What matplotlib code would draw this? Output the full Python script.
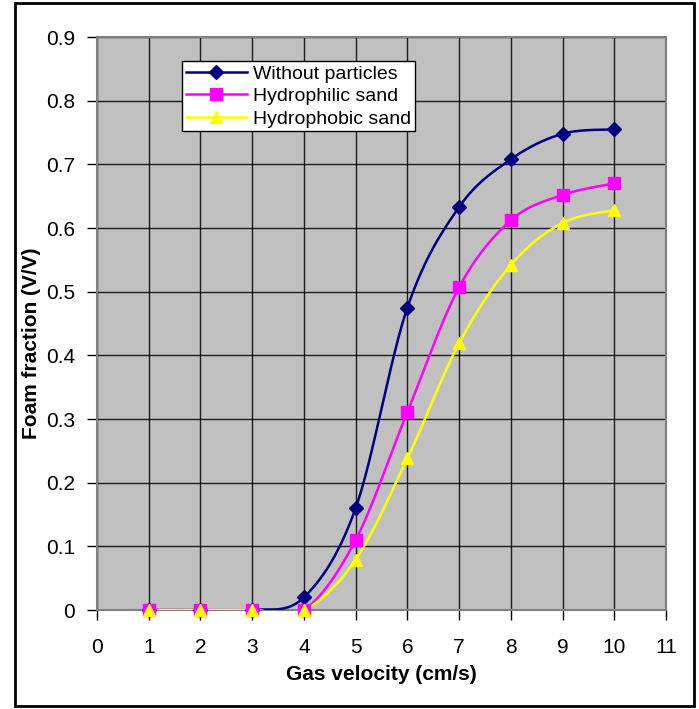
import numpy as np
import matplotlib.pyplot as plt
from matplotlib.patches import Rectangle
from matplotlib.lines import Line2D

plt.rcParams['font.family'] = ['Liberation Sans', 'DejaVu Sans']

# data
velocity = [1, 2, 3, 4, 5, 6, 7, 8, 9, 10]
without_particles = [0, 0, 0, 0.02, 0.160, 0.475, 0.633, 0.708, 0.748, 0.755]
hydrophilic_sand = [0, 0, 0, 0, 0.110, 0.311, 0.507, 0.612, 0.652, 0.670]
hydrophobic_sand = [0, 0, 0, 0, 0.079, 0.238, 0.419, 0.542, 0.608, 0.628]

x_ticks = list(range(0, 12))
y_ticks = [0, 0.1, 0.2, 0.3, 0.4, 0.5, 0.6, 0.7, 0.8, 0.9]


def smooth(x, y, n=30):
    """Excel-style smoothed line (Catmull-Rom through the points)."""
    x = np.asarray(x, float)
    y = np.asarray(y, float)
    px = np.concatenate([[x[0]], x, [x[-1]]])
    py = np.concatenate([[y[0]], y, [y[-1]]])
    xs, ys = [], []
    for i in range(1, len(px) - 2):
        p0, p1, p2, p3 = (np.array([px[j], py[j]]) for j in (i - 1, i, i + 1, i + 2))
        c1 = p1 + (p2 - p0) / 6.0
        c2 = p2 - (p3 - p1) / 6.0
        t = np.linspace(0, 1, n)[:, None]
        b = ((1 - t)**3) * p1 + 3 * ((1 - t)**2) * t * c1 + 3 * (1 - t) * t**2 * c2 + t**3 * p2
        xs.extend(b[:, 0])
        ys.extend(b[:, 1])
    return np.array(xs), np.array(ys)


fig = plt.figure(figsize=(6.99, 7.09), dpi=100)
ax = fig.add_axes([0.1388, 0.1396, 0.814, 0.8082])
ax.set_facecolor('#C0C0C0')

series = [
    ("Without particles", without_particles, '#000080', 'D', 7),
    ("Hydrophilic sand", hydrophilic_sand, '#FF00FF', 's', 9),
    ("Hydrophobic sand", hydrophobic_sand, '#FFFF00', '^', 9),
]

handles = []
for label, vals, color, marker, ms in series:
    sx, sy = smooth(velocity, vals)
    ax.plot(sx, sy, color=color, linewidth=1.8, zorder=3)
    ax.plot(velocity, vals, linestyle='none', marker=marker, markersize=ms,
            color=color, markeredgecolor=color, zorder=4, clip_on=False)
    handles.append(Line2D([], [], color=color, linewidth=1.8, marker=marker,
                          markersize=ms, markeredgecolor=color, label=label))

ax.set_xlim(0, 11)
ax.set_ylim(0, 0.9)
ax.set_xticks(x_ticks)
ax.set_yticks(y_ticks)
ax.set_yticklabels(['0'] + [f'{v:.1f}' for v in y_ticks[1:]])
ax.grid(True, color='black', linewidth=1.0, alpha=0.85)
ax.set_axisbelow(True)
for s in ax.spines.values():
    s.set_color('#808080')
    s.set_linewidth(1.5)
ax.tick_params(direction='out', length=7, width=1, color='black',
               labelsize=15)
ax.tick_params(axis='y', pad=9)
ax.tick_params(axis='x', pad=13)

ax.set_xlabel('Gas velocity (cm/s)', fontsize=15, fontweight='bold', labelpad=6)
ax.set_ylabel('Foam fraction (V/V)', fontsize=15, fontweight='bold')
ax.yaxis.set_label_coords(-0.098, 0.465)

leg = ax.legend(handles=handles, loc='upper left', bbox_to_anchor=(0.150, 0.958),
                fontsize=14, frameon=True, fancybox=False, borderpad=0.2,
                handlelength=3.1, handletextpad=0.35, labelspacing=0.25,
                borderaxespad=0)
leg.get_frame().set_edgecolor('black')
leg.get_frame().set_linewidth(1)
leg.get_frame().set_facecolor('white')
leg.get_frame().set_alpha(1)

fig.patches.append(Rectangle((0.021, 0.004), 0.972, 0.992, transform=fig.transFigure,
                             fill=False, edgecolor='black', linewidth=2))

fig.savefig('out.png', dpi=100)
